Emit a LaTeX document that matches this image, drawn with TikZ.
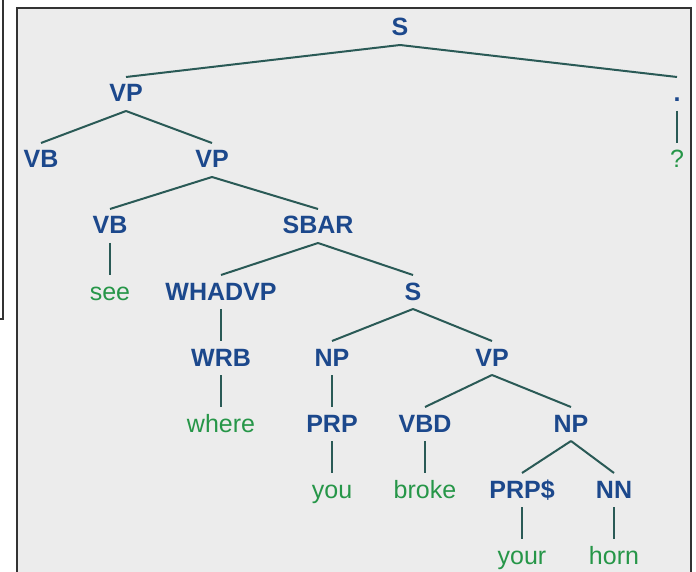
\documentclass[tikz,border=0pt]{standalone}
\usepackage{fontspec}
\setmainfont{Liberation Sans}
\usepackage{tikz}
\usetikzlibrary{positioning}

\definecolor{tagblue}{RGB}{28,72,140}
\definecolor{wordgreen}{RGB}{38,150,72}
\definecolor{branch}{RGB}{42,90,86}
\definecolor{panel}{RGB}{236,236,236}

\begin{document}
\begin{tikzpicture}[
                x=0.5pt, y=-0.5pt,
                every node/.style={anchor=base, inner xsep=2pt, inner ysep=3.3pt, text height=9pt, text depth=1pt, font=\fontsize{12.5}{15}\selectfont},
                tag/.style={text=tagblue, font=\fontsize{12.5}{15}\selectfont\bfseries},
                word/.style={text=wordgreen},
                arrow/.style={-, draw=branch, line width=1pt}]
            \useasboundingbox (0,0) rectangle (696,572);

            % Cadres
            \draw[black!80, line width=0.8pt] (3,-10) -- (3,319) -- (-10,319);
            \draw[fill=panel, draw=black!80, line width=0.8pt] (17,8) rectangle (691,600);

            % Arbre
            \node[tag] (s) at (400,36) {S};
            \node[tag] (vp) at (126,102) {VP};
            \node[tag] (dot) at (677,102) {.};
            \node[tag] (vb) at (41,168) {VB};
            \node[tag] (vpb) at (212,168) {VP};
            \node[word] (qm) at (677,168) {?};
            \node[tag] (vbc) at (110,234) {VB};
            \node[tag] (sbar) at (318,234) {SBAR};
            \node[word] (see) at (110,300) {see};
            \node[tag] (whadvp) at (221,300) {WHADVP};
            \node[tag] (sc) at (413,300) {S};
            \node[tag] (wrb) at (221,366) {WRB};
            \node[tag] (np) at (332,366) {NP};
            \node[tag] (vpc) at (492,366) {VP};
            \node[word] (where) at (221,432) {where};
            \node[tag] (prp) at (332,432) {PRP};
            \node[tag] (vbd) at (425,432) {VBD};
            \node[tag] (npb) at (571,432) {NP};
            \node[word] (you) at (332,498) {you};
            \node[word] (broke) at (425,498) {broke};
            \node[tag] (prps) at (522,498) {PRP\$};
            \node[tag] (nn) at (614,498) {NN};
            \node[word] (your) at (522,564) {your};
            \node[word] (horn) at (614,564) {horn};

            % Branches
            \draw[arrow] (s.south) -- (vp.north);
            \draw[arrow] (s.south) -- (dot.north);
            \draw[arrow] (vp.south) -- (vb.north);
            \draw[arrow] (vp.south) -- (vpb.north);
            \draw[arrow] (dot.south) -- (qm.north);
            \draw[arrow] (vpb.south) -- (vbc.north);
            \draw[arrow] (vpb.south) -- (sbar.north);
            \draw[arrow] (vbc.south) -- (see.north);
            \draw[arrow] (sbar.south) -- (whadvp.north);
            \draw[arrow] (sbar.south) -- (sc.north);
            \draw[arrow] (whadvp.south) -- (wrb.north);
            \draw[arrow] (wrb.south) -- (where.north);
            \draw[arrow] (sc.south) -- (np.north);
            \draw[arrow] (sc.south) -- (vpc.north);
            \draw[arrow] (np.south) -- (prp.north);
            \draw[arrow] (prp.south) -- (you.north);
            \draw[arrow] (vpc.south) -- (vbd.north);
            \draw[arrow] (vpc.south) -- (npb.north);
            \draw[arrow] (vbd.south) -- (broke.north);
            \draw[arrow] (npb.south) -- (prps.north);
            \draw[arrow] (npb.south) -- (nn.north);
            \draw[arrow] (prps.south) -- (your.north);
            \draw[arrow] (nn.south) -- (horn.north);

        \end{tikzpicture}
\end{document}
